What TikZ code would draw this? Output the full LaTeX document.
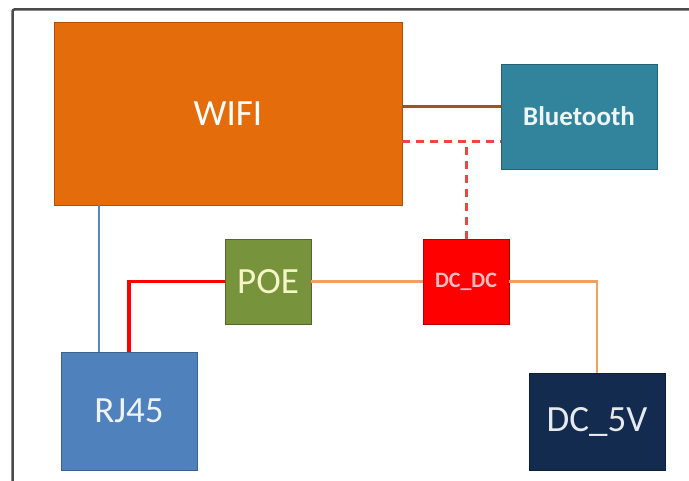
\documentclass[tikz,border=0pt]{standalone}
\usepackage{fontspec}
\setmainfont{Carlito}
\definecolor{wifiC}{HTML}{E46C0A}
\definecolor{btC}{HTML}{31849B}
\definecolor{poeC}{HTML}{77933C}
\definecolor{dcdcC}{HTML}{FF0000}
\definecolor{rjC}{HTML}{4F81BD}
\definecolor{fiveC}{HTML}{132B4E}
\definecolor{brownL}{HTML}{A0521E}
\definecolor{orangeL}{HTML}{F0A060}
\definecolor{blueL}{HTML}{5A86BE}
\definecolor{dashL}{HTML}{EE4444}
\definecolor{frameC}{HTML}{4A4A4A}
\tikzset{
  blk/.style={rectangle, inner sep=0pt, outer sep=0pt, line width=0.8pt, text=white,
    font=\fontsize{37}{37}\selectfont},
}
\begin{document}
\begin{tikzpicture}[x=1pt,y=-1pt]
\useasboundingbox (0,0) rectangle (689,481);
\fill[white] (0,0) rectangle (689,481);
% frame
\draw[frameC, line width=2.5pt, rounded corners=2pt] (12.5,481) -- (12.5,9.5) -- (689,9.5);
% nodes
\node[blk, fill=wifiC, draw=wifiC!75!black, minimum width=348pt, minimum height=183pt,
  font=\fontsize{37}{37}\selectfont] (wifi) at (228,113.5) {WIFI};
\node[blk, fill=btC, draw=btC!75!black, minimum width=156pt, minimum height=105pt,
  font=\fontsize{27}{27}\selectfont\bfseries, text=white!92!btC] (bt) at (579,116.5) {Bluetooth};
\node[blk, fill=poeC, draw=poeC!70!black, minimum width=86pt, minimum height=85pt, text={rgb,255:red,245;green,245;blue,200}] (poe) at (268,281.5) {POE};
\node[blk, fill=dcdcC, draw=dcdcC!70!black, minimum width=86pt, minimum height=85pt,
  font=\fontsize{22}{22}\selectfont\bfseries, text={rgb,255:red,255;green,190;blue,190}] (dcdc) at (466,281.5) {DC\_DC};
\node[blk, fill=rjC, draw=rjC!75!black, minimum width=136pt, minimum height=118pt, text=white!90!rjC] (rj) at (129,411) {RJ45};
\node[blk, fill=fiveC, draw=fiveC!70!black, minimum width=136pt, minimum height=97pt, text=white!90!fiveC] (five) at (597,421.5) {DC\_5V};
% connectors
\coordinate (dj) at (dcdc.north |- 0,142);
\draw[brownL, line width=3pt] (wifi.east |- 0,107) -- (bt.west |- 0,107);
\draw[dashL, line width=3pt, dash pattern=on 8pt off 6pt] (wifi.east |- dj) -- (bt.west |- dj);
\draw[dashL, line width=3pt, dash pattern=on 8pt off 6pt] (dcdc.north) -- (dj);
\draw[blueL, line width=2.6pt] ([xshift=-30pt]rj.north) -- ([xshift=-30pt]rj.north |- wifi.south);
\draw[red, line width=3.2pt] (rj.north) |- (poe.west);
\draw[orangeL, line width=2.6pt] (poe.east) -- (dcdc.west);
\draw[orangeL, line width=2.6pt] (dcdc.east) -| (five.north);
\end{tikzpicture}
\end{document}
